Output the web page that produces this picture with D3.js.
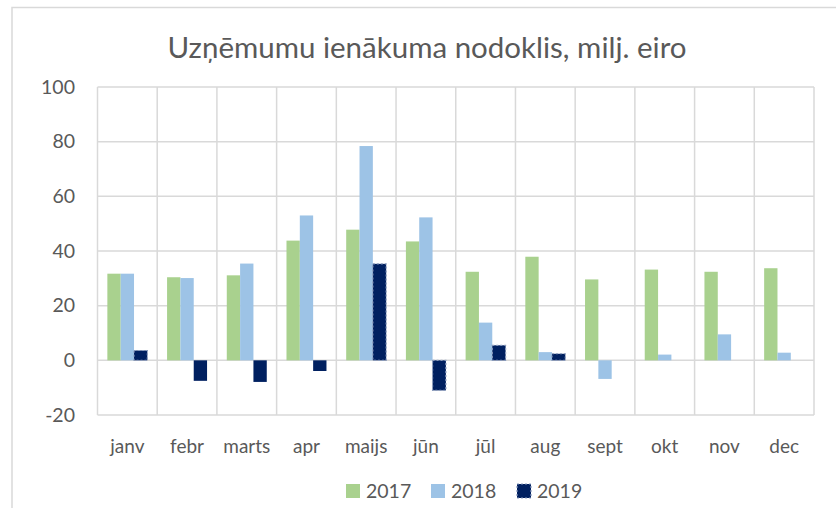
<!DOCTYPE html>
<html>
<head>
<meta charset="utf-8">
<script src="https://cdn.jsdelivr.net/npm/d3@7"></script>
<style>
  body { margin: 0; background: #fff; }
  svg { display: block; font-family: Lato, "Open Sans", sans-serif; }
</style>
</head>
<body>
<script>
var months = ["janv", "febr", "marts", "apr", "maijs", "jūn", "jūl", "aug", "sept", "okt", "nov", "dec"];
var years = ["2017", "2018", "2019"];
var v2017 = [31.7, 30.4, 31.1, 43.8, 47.8, 43.5, 32.4, 37.9, 29.6, 33.2, 32.4, 33.7];
var v2018 = [31.7, 30.1, 35.4, 53.0, 78.4, 52.3, 13.8, 3.0, -6.8, 2.1, 9.5, 2.8];
var v2019 = [3.6, -7.5, -7.9, -3.9, 35.3, -11.0, 5.5, 2.4, null, null, null, null];
var yTicks = [-20, 0, 20, 40, 60, 80, 100];

var colors = ["#a9d18e", "#9dc3e6", "#002060"];
// these 2019 points carry a dotted outline in the original
var dotted = ["janv", "maijs", "jūn", "jūl", "aug"];

var width = 836, height = 508;
var margin = {top: 87, right: 22, bottom: 93, left: 97.5};

var svg = d3.select("body").append("svg")
    .attr("width", width).attr("height", height);

// outer chart frame
svg.append("path")
    .attr("d", "M12," + height + "V7.5H" + width)
    .attr("fill", "none").attr("stroke", "#d9d9d9").attr("stroke-width", 1.5);

svg.append("text")
    .attr("x", 427).attr("y", 58)
    .attr("text-anchor", "middle")
    .attr("font-size", 29.5)
    .attr("fill", "#595959")
    .text("Uzņēmumu ienākuma nodoklis, milj. eiro");

var x = d3.scaleBand().domain(months).range([margin.left, width - margin.right]);
var y = d3.scaleLinear().domain([-20, 100]).range([height - margin.bottom, margin.top]);
var x1 = d3.scaleBand().domain(years).range([0, x.bandwidth()]).paddingOuter(0.74).paddingInner(0);

var g = svg.append("g");

// horizontal gridlines
g.selectAll(".hgrid").data(yTicks).enter().append("line")
    .attr("x1", margin.left).attr("x2", width - margin.right)
    .attr("y1", function(d) { return y(d); }).attr("y2", function(d) { return y(d); })
    .attr("stroke", "#d9d9d9").attr("stroke-width", 1.5);

// vertical gridlines at category borders
var borders = months.map(function(m) { return x(m); }).concat([width - margin.right]);
g.selectAll(".vgrid").data(borders).enter().append("line")
    .attr("x1", function(d) { return d; }).attr("x2", function(d) { return d; })
    .attr("y1", y(100)).attr("y2", y(-20))
    .attr("stroke", "#d9d9d9").attr("stroke-width", 1.5);

var series = [v2017, v2018, v2019];
series.forEach(function(vals, si) {
  var data = months.map(function(m, i) { return {m: m, v: vals[i]}; })
    .filter(function(d) { return d.v !== null; });
  g.selectAll(".bar" + si).data(data).enter().append("rect")
      .attr("x", function(d) { return x(d.m) + x1(years[si]); })
      .attr("width", x1.bandwidth())
      .attr("y", function(d) { return y(Math.max(0, d.v)); })
      .attr("height", function(d) { return Math.abs(y(d.v) - y(0)); })
      .attr("fill", colors[si])
      .attr("stroke", function(d) {
        return si === 2 && dotted.indexOf(d.m) >= 0 ? "#8a9bbd" : "none";
      })
      .attr("stroke-width", 1.2)
      .attr("stroke-dasharray", "2,2");
});

// y axis labels
svg.selectAll(".ylab").data(yTicks).enter().append("text")
    .attr("x", 75).attr("y", function(d) { return y(d); })
    .attr("dy", "0.35em")
    .attr("text-anchor", "end")
    .attr("font-size", 19.5).attr("fill", "#595959")
    .text(function(d) { return d; });

// x axis labels
svg.selectAll(".xlab").data(months).enter().append("text")
    .attr("x", function(d) { return x(d) + x.bandwidth() / 2; })
    .attr("y", 453)
    .attr("text-anchor", "middle")
    .attr("font-size", 19).attr("fill", "#595959")
    .text(function(d) { return d; });

// legend
var legX = [346, 431, 517];
var leg = svg.selectAll(".leg").data(years).enter().append("g")
    .attr("transform", function(d, i) { return "translate(" + legX[i] + ",484)"; });
leg.append("rect")
    .attr("width", 14).attr("height", 14)
    .attr("fill", function(d, i) { return colors[i]; })
    .attr("stroke", function(d, i) { return i === 2 ? "#8a9bbd" : "none"; })
    .attr("stroke-width", 1.2).attr("stroke-dasharray", "2,2");
leg.append("text")
    .attr("x", 20).attr("y", 7).attr("dy", "0.35em")
    .attr("font-size", 19.5).attr("fill", "#595959")
    .text(function(d) { return d; });
</script>
</body>
</html>
